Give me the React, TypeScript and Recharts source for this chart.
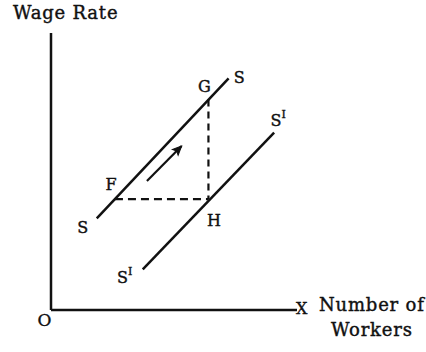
import React from "react";
import { LineChart, Line, XAxis, YAxis, ReferenceDot } from "recharts";

// supply curves (number of workers, wage rate) on a 0-100 scale
const supplyS = [
  { x: 18.6, y: 33.1 },
  { x: 72.2, y: 83.6 },
];
const supplyS1 = [
  { x: 37.3, y: 14.7 },
  { x: 90.7, y: 64.0 },
];
const pointF = { x: 26, y: 40 };
const pointG = { x: 64, y: 76 };
const pointH = { x: 64, y: 40 };
const moveArrow = [
  { x: 39.0, y: 46.6 },
  { x: 53.1, y: 59.2 },
];
const dashFH = [pointF, pointH];
const dashGH = [pointG, pointH];

const W = 426;
const H = 352;
const margin = { top: 33, right: 129, bottom: 41, left: 50 };
const plotW = W - margin.left - margin.right - 1;
const plotH = H - margin.top - margin.bottom - 1;

const FONT = "'DejaVu Serif', serif";
const INK = "#111";

// label text, anchor point, pixel offset of the text centre/baseline
const pointLabels = [
  { text: "G", at: pointG, dx: -4, dy: -7.5 },
  { text: "S", at: supplyS[1], dx: 10.5, dy: 4.5 },
  { text: "S", sup: "I", at: supplyS1[1], dx: 4, dy: -6.5 },
  { text: "F", at: pointF, dx: -4, dy: -9.5 },
  { text: "S", at: supplyS[0], dx: -14, dy: 15 },
  { text: "H", at: pointH, dx: 5.5, dy: 26.5 },
  { text: "S", sup: "I", at: supplyS1[0], dx: -18, dy: 14 },
];

function PointText({ viewBox, text, sup, dx, dy }: any) {
  const cx = viewBox.x + viewBox.width / 2;
  const cy = viewBox.y + viewBox.height / 2;
  return (
    <text
      x={cx + dx}
      y={cy + dy}
      textAnchor="middle"
      fontFamily={FONT}
      fontSize={16}
      fill={INK}
      stroke={INK}
      strokeWidth={0.4}
    >
      {text}
      {sup && (
        <tspan fontSize={11} dy={-8}>
          {sup}
        </tspan>
      )}
    </text>
  );
}

function WageTitle({ viewBox }: any) {
  return (
    <text
      x={viewBox.x - 37}
      y={viewBox.y - 14}
      fontFamily={FONT}
      fontSize={18}
      letterSpacing={0.8}
      fill={INK}
      stroke={INK}
      strokeWidth={0.4}
    >
      Wage Rate
    </text>
  );
}

function WorkersTitle({ viewBox }: any) {
  const right = viewBox.x + viewBox.width;
  return (
    <g fontFamily={FONT} fill={INK} stroke={INK} strokeWidth={0.4}>
      <text x={viewBox.x - 6.5} y={viewBox.y + 16} textAnchor="middle" fontSize={17}>
        O
      </text>
      <text x={right - 1} y={viewBox.y + 4} fontSize={16}>
        X
      </text>
      <text x={right + 22} y={viewBox.y + 1} fontSize={18} letterSpacing={0.8}>
        Number of
      </text>
      <text x={right + 34} y={viewBox.y + 26} fontSize={18} letterSpacing={0.8}>
        Workers
      </text>
    </g>
  );
}

// arrow head on the last point of the movement arrow
const arrowAngle =
  (Math.atan2(
    -(moveArrow[1].y - moveArrow[0].y) * (plotH / 100),
    (moveArrow[1].x - moveArrow[0].x) * (plotW / 100)
  ) *
    180) /
  Math.PI;

function ArrowDot({ cx, cy, index }: any) {
  if (index !== moveArrow.length - 1) return <g key={index} />;
  return (
    <path
      key={index}
      d="M 0 0 L -9 -4 L -7 0 L -9 4 Z"
      fill={INK}
      stroke={INK}
      strokeWidth={1}
      transform={`translate(${cx},${cy}) rotate(${arrowAngle})`}
    />
  );
}

export default function App() {
  return (
    <div style={{ position: "absolute", left: 0, top: 0, background: "#fff" }}>
      <LineChart width={W} height={H} margin={margin}>
        <XAxis
          type="number"
          dataKey="x"
          domain={[0, 100]}
          allowDataOverflow
          height={1}
          tick={false}
          tickLine={false}
          axisLine={{ stroke: INK, strokeWidth: 2.5 }}
          label={<WorkersTitle />}
        />
        <YAxis
          type="number"
          dataKey="y"
          domain={[0, 100]}
          allowDataOverflow
          width={1}
          tick={false}
          tickLine={false}
          axisLine={{ stroke: INK, strokeWidth: 2.5 }}
          label={<WageTitle />}
        />
        <Line data={supplyS} dataKey="y" stroke={INK} strokeWidth={2.5} dot={false} isAnimationActive={false} />
        <Line data={supplyS1} dataKey="y" stroke={INK} strokeWidth={2.5} dot={false} isAnimationActive={false} />
        <Line
          data={dashFH}
          dataKey="y"
          stroke={INK}
          strokeWidth={2.2}
          strokeDasharray="8 5"
          dot={false}
          isAnimationActive={false}
        />
        <Line
          data={dashGH}
          dataKey="y"
          stroke={INK}
          strokeWidth={2.2}
          strokeDasharray="7 5"
          dot={false}
          isAnimationActive={false}
        />
        <Line
          data={moveArrow}
          dataKey="y"
          stroke={INK}
          strokeWidth={2.2}
          dot={<ArrowDot />}
          isAnimationActive={false}
        />
        {pointLabels.map((l, i) => (
          <ReferenceDot
            key={i}
            x={l.at.x}
            y={l.at.y}
            r={1}
            fill="none"
            stroke="none"
            label={<PointText text={l.text} sup={l.sup} dx={l.dx} dy={l.dy} />}
          />
        ))}
      </LineChart>
    </div>
  );
}
